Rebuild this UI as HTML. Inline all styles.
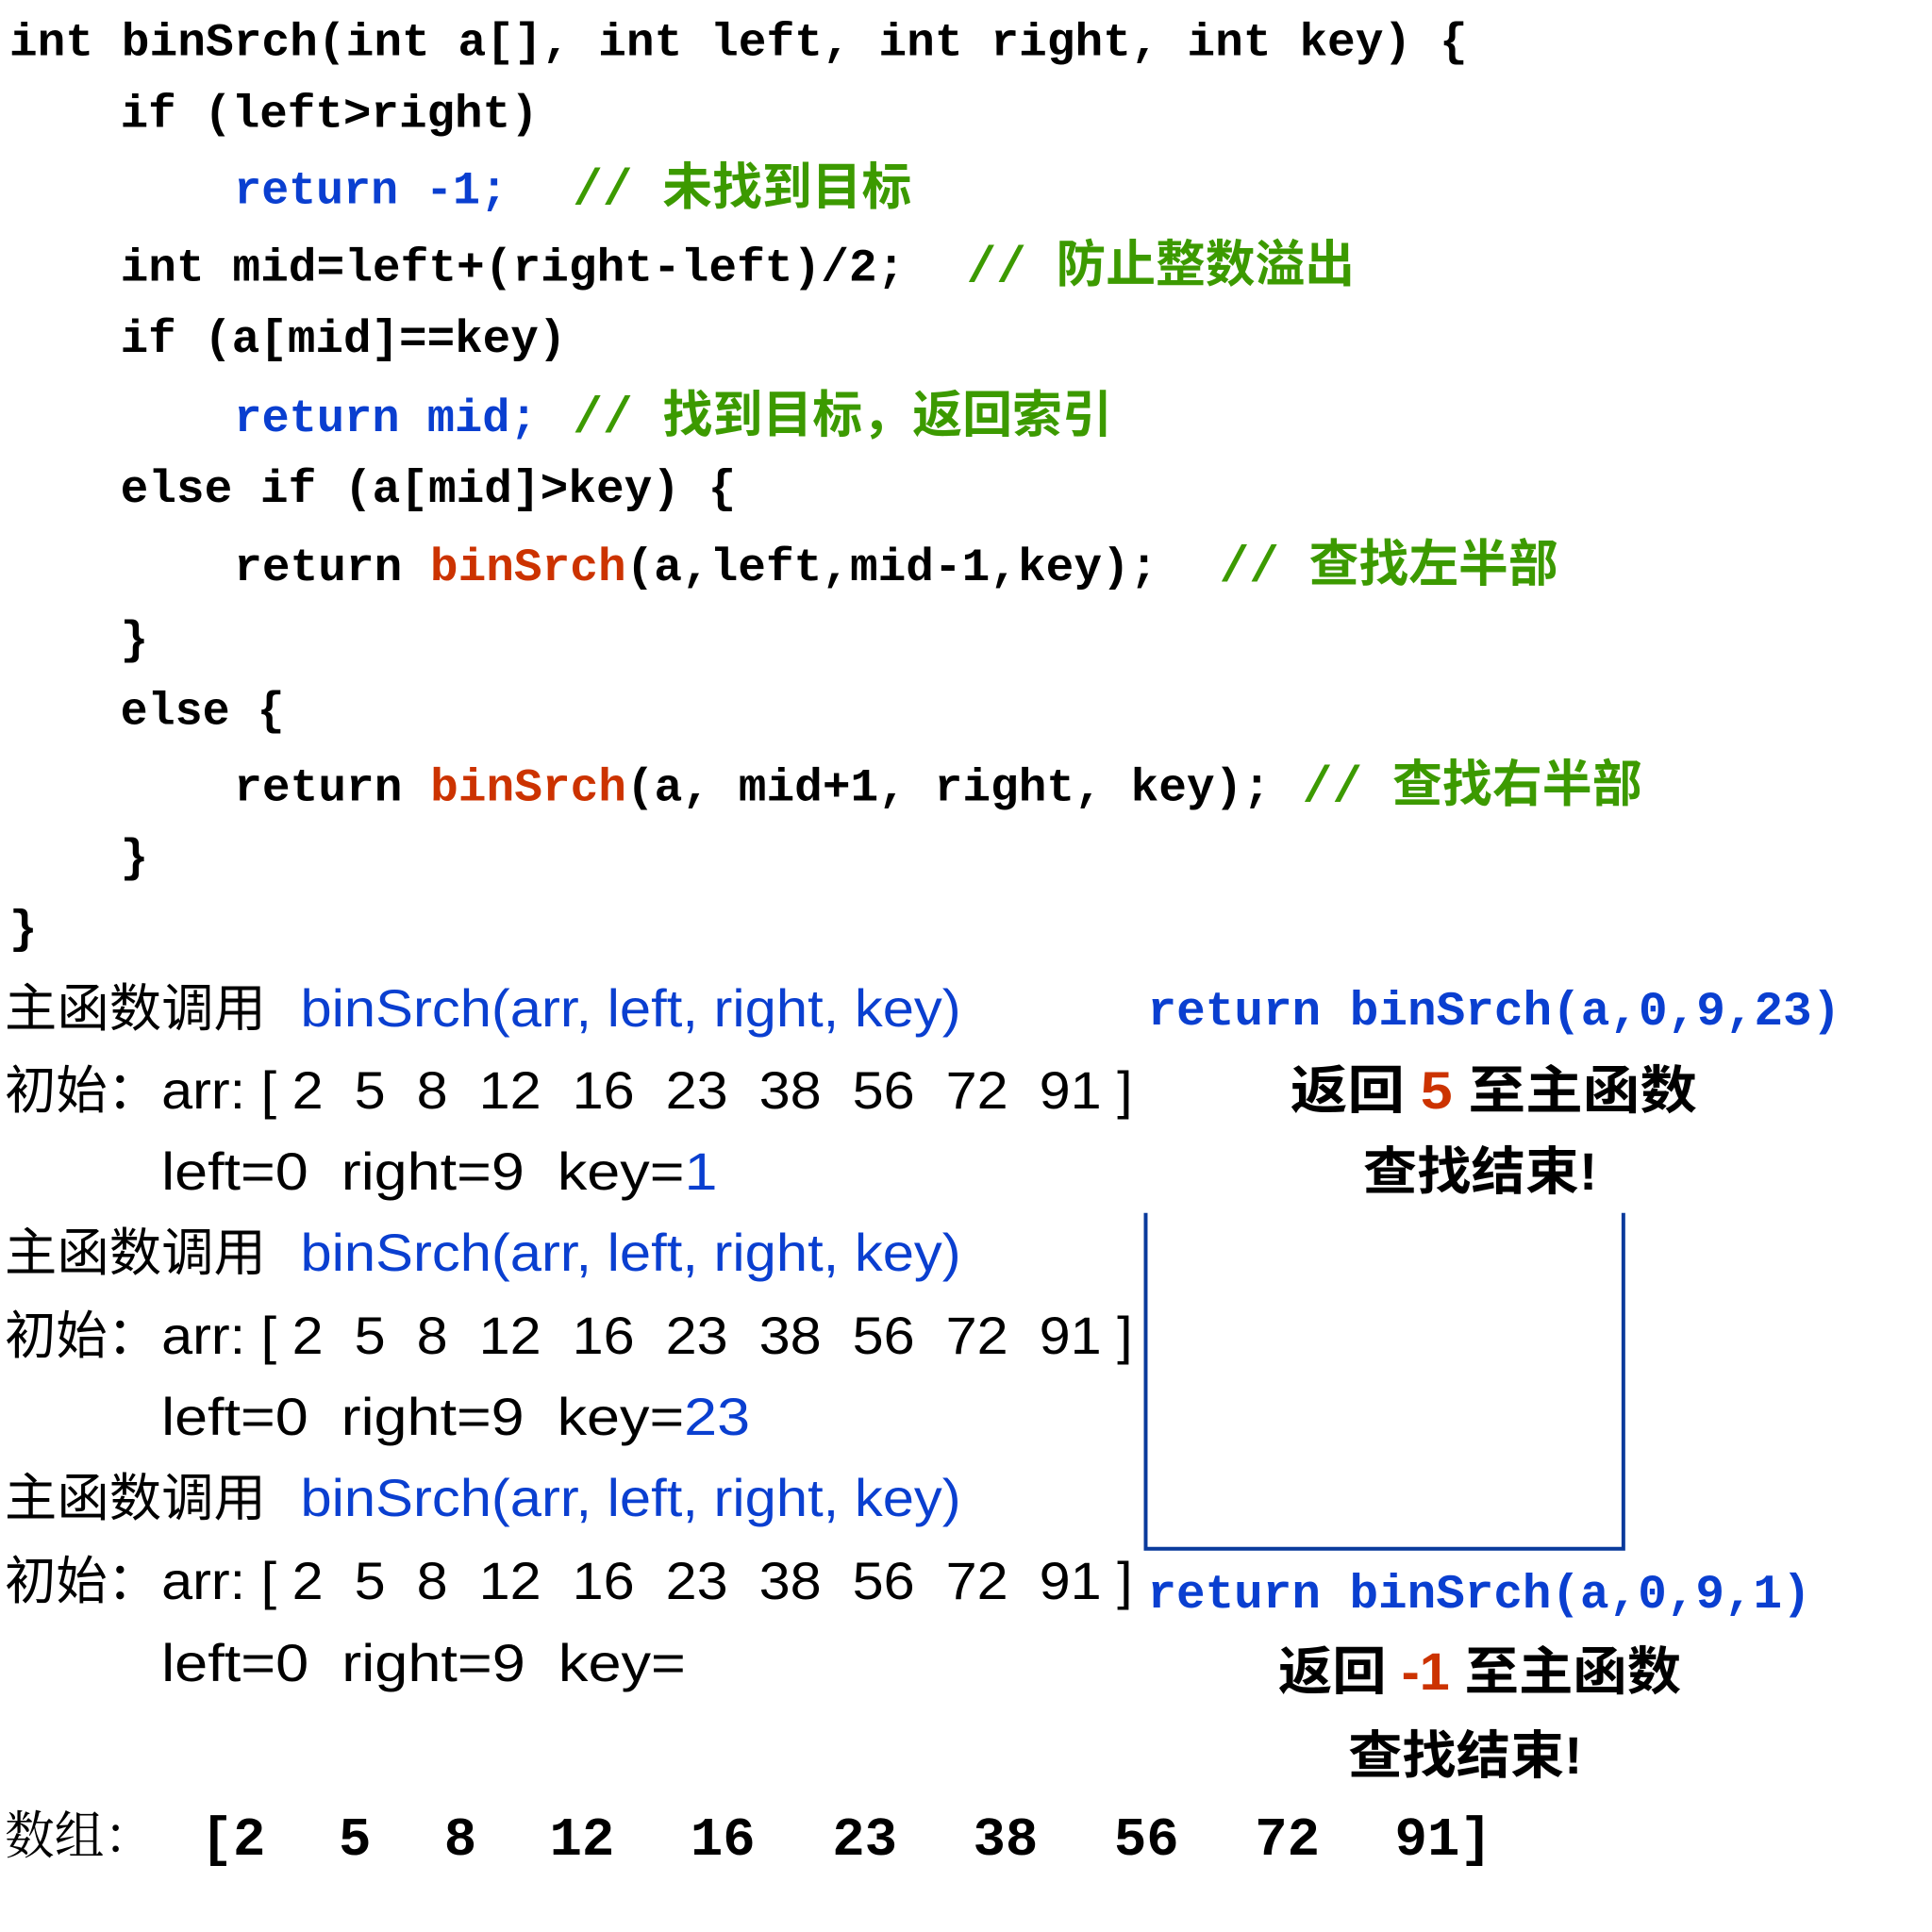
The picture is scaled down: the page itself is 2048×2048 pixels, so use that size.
<!DOCTYPE html>
<html><head><meta charset="utf-8"><style>
html,body{margin:0;padding:0;background:#fff;}
svg{display:block;}
.c{font-family:"Liberation Mono","Noto Sans CJK SC",monospace;font-weight:bold;font-size:50px;}
.cm{font-family:"Liberation Mono","Noto Sans CJK SC",monospace;font-weight:bold;font-size:54px;fill:#3c9a00;}
.s{font-family:"Liberation Sans","Noto Sans CJK SC",sans-serif;font-size:56px;}
.b{font-family:"Liberation Sans","Noto Sans CJK SC",sans-serif;font-size:56px;font-weight:bold;}
.blue{fill:#0a3fd0;}
.red{fill:#cc3300;}
</style></head><body>
<svg width="2048" height="2048" viewBox="0 0 2048 2048" xmlns="http://www.w3.org/2000/svg">
<g transform="scale(0.989)">
<g class="c">
<text x="10" y="59" textLength="1563" lengthAdjust="spacingAndGlyphs">int binSrch(int a[], int left, int right, int key) {</text>
<text x="129" y="136" textLength="448" lengthAdjust="spacingAndGlyphs">if (left&gt;right)</text>
<text x="251" y="218" textLength="293" lengthAdjust="spacingAndGlyphs" class="blue">return -1;</text>
<text x="129" y="301" textLength="841" lengthAdjust="spacingAndGlyphs">int mid=left+(right-left)/2;</text>
<text x="129" y="377" textLength="478" lengthAdjust="spacingAndGlyphs">if (a[mid]==key)</text>
<text x="251" y="462" textLength="325" lengthAdjust="spacingAndGlyphs" class="blue">return mid;</text>
<text x="129" y="538" textLength="660" lengthAdjust="spacingAndGlyphs">else if (a[mid]&gt;key) {</text>
<text x="251" y="622" textLength="990" lengthAdjust="spacingAndGlyphs">return <tspan class="red">binSrch</tspan>(a,left,mid-1,key);</text>
<text x="129" y="700">}</text>
<text x="129" y="776" textLength="176" lengthAdjust="spacingAndGlyphs">else {</text>
<text x="251" y="858" textLength="1111" lengthAdjust="spacingAndGlyphs">return <tspan class="red">binSrch</tspan>(a, mid+1, right, key);</text>
<text x="129" y="934">}</text>
<text x="10" y="1010">}</text>
</g>
<g class="cm">
<text x="614" y="219" textLength="363" lengthAdjust="spacingAndGlyphs">// 未找到目标</text>
<text x="1036" y="302" textLength="416" lengthAdjust="spacingAndGlyphs">// 防止整数溢出</text>
<text x="614" y="463" textLength="578" lengthAdjust="spacingAndGlyphs">// 找到目标，返回索引</text>
<text x="1307" y="623" textLength="363" lengthAdjust="spacingAndGlyphs">// 查找左半部</text>
<text x="1396" y="859" textLength="364" lengthAdjust="spacingAndGlyphs">// 查找右半部</text>
</g>
<g class="s">
<text x="5" y="1100" textLength="280" lengthAdjust="spacingAndGlyphs">主函数调用</text>
<text x="322" y="1100" textLength="708" lengthAdjust="spacingAndGlyphs" class="blue">binSrch(arr, left, right, key)</text>
<text x="5" y="1188" textLength="165" lengthAdjust="spacingAndGlyphs">初始：</text>
<text x="173" y="1188" textLength="1041" lengthAdjust="spacingAndGlyphs" xml:space="preserve">arr: [ 2  5  8  12  16  23  38  56  72  91 ]</text>
<text x="173" y="1275" textLength="596" lengthAdjust="spacingAndGlyphs" xml:space="preserve">left=0  right=9  key=<tspan class="blue">1</tspan></text>

<text x="5" y="1362" textLength="280" lengthAdjust="spacingAndGlyphs">主函数调用</text>
<text x="322" y="1362" textLength="708" lengthAdjust="spacingAndGlyphs" class="blue">binSrch(arr, left, right, key)</text>
<text x="5" y="1451" textLength="165" lengthAdjust="spacingAndGlyphs">初始：</text>
<text x="173" y="1451" textLength="1041" lengthAdjust="spacingAndGlyphs" xml:space="preserve">arr: [ 2  5  8  12  16  23  38  56  72  91 ]</text>
<text x="173" y="1538" textLength="631" lengthAdjust="spacingAndGlyphs" xml:space="preserve">left=0  right=9  key=<tspan class="blue">23</tspan></text>

<text x="5" y="1625" textLength="280" lengthAdjust="spacingAndGlyphs">主函数调用</text>
<text x="322" y="1625" textLength="708" lengthAdjust="spacingAndGlyphs" class="blue">binSrch(arr, left, right, key)</text>
<text x="5" y="1714" textLength="165" lengthAdjust="spacingAndGlyphs">初始：</text>
<text x="173" y="1714" textLength="1041" lengthAdjust="spacingAndGlyphs" xml:space="preserve">arr: [ 2  5  8  12  16  23  38  56  72  91 ]</text>
<text x="173" y="1802" textLength="562" lengthAdjust="spacingAndGlyphs" xml:space="preserve">left=0  right=9  key=</text>
</g>
<g class="c blue" style="font-size:52px">
<text x="1230" y="1098" textLength="743" lengthAdjust="spacingAndGlyphs">return binSrch(a,0,9,23)</text>
<text x="1230" y="1723" textLength="711" lengthAdjust="spacingAndGlyphs">return binSrch(a,0,9,1)</text>
</g>
<g class="b">
<text x="1383" y="1188" textLength="436" lengthAdjust="spacingAndGlyphs" xml:space="preserve">返回 <tspan class="red">5</tspan> 至主函数</text>
<text x="1461" y="1275" textLength="251" lengthAdjust="spacingAndGlyphs">查找结束!</text>
<text x="1370" y="1811" textLength="432" lengthAdjust="spacingAndGlyphs" xml:space="preserve">返回 <tspan class="red">-1</tspan> 至主函数</text>
<text x="1445" y="1901" textLength="251" lengthAdjust="spacingAndGlyphs">查找结束!</text>
</g>
<polyline points="1228,1300 1228,1660 1740,1660 1740,1300" fill="none" stroke="#0a3a9c" stroke-width="4"/>
<text x="5" y="1987" style="font-family:'Noto Serif CJK SC',serif;font-size:56px" textLength="160" lengthAdjust="spacingAndGlyphs">数组：</text>
<g class="c" style="font-size:58px">
<text x="215" y="1988">[2</text>
<text x="363" y="1988">5</text>
<text x="476" y="1988">8</text>
<text x="589" y="1988">12</text>
<text x="740" y="1988">16</text>
<text x="892" y="1988">23</text>
<text x="1043" y="1988">38</text>
<text x="1194" y="1988">56</text>
<text x="1345" y="1988">72</text>
<text x="1495" y="1988">91]</text>
</g>
</g>
</svg>
</body></html>
